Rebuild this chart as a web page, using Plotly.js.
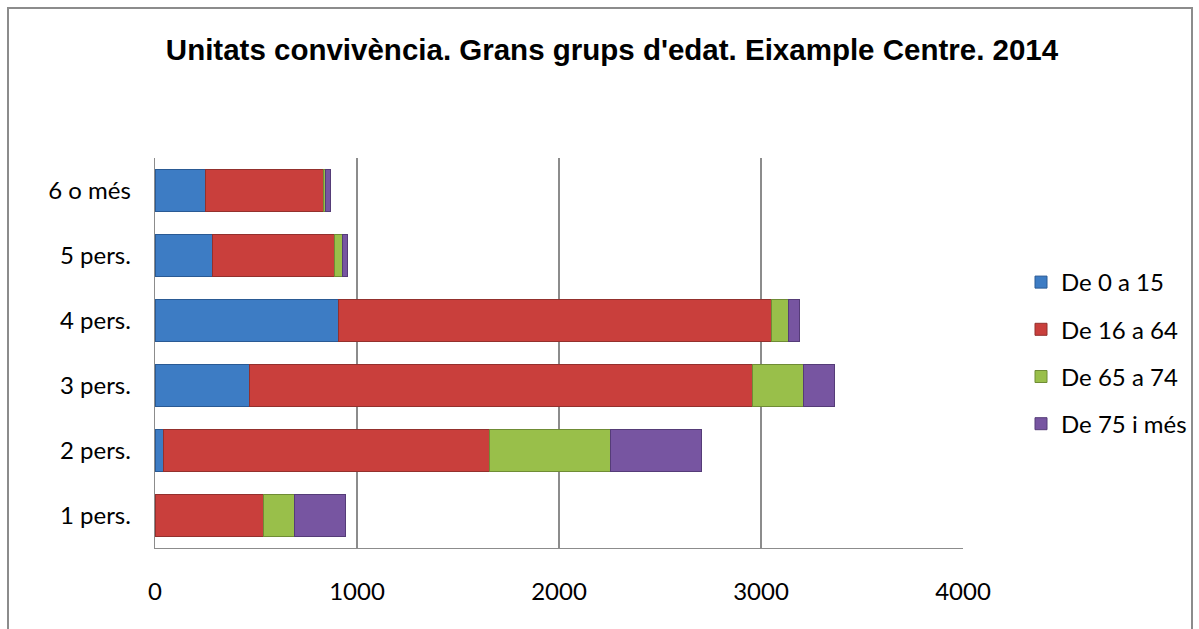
<!DOCTYPE html>
<html>
<head>
<meta charset="utf-8">
<script src="https://cdn.plot.ly/plotly-3.0.1.min.js"></script>
<style>
html,body{margin:0;padding:0;background:#fff;}
#chart{width:1199px;height:629px;}
</style>
</head>
<body>
<div id="chart"></div>
<script>
const categories = ["1 pers.", "2 pers.", "3 pers.", "4 pers.", "5 pers.", "6 o més"];
const seriesNames = ["De 0 a 15", "De 16 a 64", "De 65 a 74", "De 75 i més"];
const age0to15 = [0, 40, 470, 909, 287, 251];
const age16to64 = [536, 1615, 2490, 2141, 604, 581];
const age65to74 = [157, 601, 250, 87, 38, 13];
const age75plus = [248, 449, 153, 53, 26, 26];
const xTicks = [0, 1000, 2000, 3000, 4000];

const seriesValues = [age0to15, age16to64, age65to74, age75plus];
const fills = ["#3D7CC4", "#C93F3C", "#99BF4A", "#7755A1"];
const edges = ["#2A5A94", "#93302D", "#6F8C35", "#553C78"];

const traces = seriesValues.map((vals, i) => ({
  type: "bar",
  orientation: "h",
  name: seriesNames[i],
  y: categories,
  x: vals,
  legendgroup: "g" + i,
  marker: {color: fills[i], line: {color: edges[i], width: 1}},
  hoverinfo: "x+y+name"
}));

const L = 155, R = 236, T = 158, B = 81;
const W = 1199 - L - R, H = 629 - T - B;
const px2x = p => (p - L) / W;
const py2y = p => (629 - B - p) / H;
const labelFont = {family: "Lato, Carlito, Calibri, sans-serif", size: 24, color: "#000"};

const layout = {
  width: 1199, height: 629,
  margin: {l: L, r: R, t: T, b: B, pad: 0, autoexpand: false},
  paper_bgcolor: "#ffffff",
  plot_bgcolor: "#ffffff",
  barmode: "stack",
  bargap: 0.35,
  showlegend: true,
  title: {
    text: "<b>Unitats convivència. Grans grups d'edat. Eixample Centre. 2014</b>",
    font: {family: "Liberation Sans, Arial, sans-serif", size: 29.5, color: "#000"},
    x: 612 / 1199, xanchor: "center", xref: "container",
    y: 1 - 50 / 629, yanchor: "middle"
  },
  xaxis: {
    range: [0, 4000],
    tickvals: xTicks,
    ticktext: xTicks.map(String),
    showgrid: true,
    gridcolor: "#8c8c8c",
    gridwidth: 1.3,
    zeroline: false,
    showline: true,
    linecolor: "#8c8c8c",
    linewidth: 1.3,
    ticks: "",
    ticklabelstandoff: 22,
    tickfont: labelFont,
    fixedrange: true
  },
  yaxis: {
    type: "category",
    categoryorder: "array",
    categoryarray: categories,
    showgrid: false,
    zeroline: false,
    showline: true,
    linecolor: "#8c8c8c",
    linewidth: 1.3,
    ticks: "",
    ticklabelstandoff: 18,
    tickfont: labelFont,
    fixedrange: true
  },
  legend: {
    x: px2x(1021), xanchor: "left",
    y: py2y(260), yanchor: "top",
    traceorder: "grouped",
    tracegroupgap: 13,
    font: labelFont,
    bgcolor: "rgba(0,0,0,0)",
    itemwidth: 30
  },
  shapes: [
    {type: "rect", xref: "paper", yref: "paper",
     x0: px2x(8), x1: px2x(1192), y0: py2y(640), y1: py2y(8),
     line: {color: "#8c8c8c", width: 2}, fillcolor: "rgba(0,0,0,0)", layer: "below"}
  ]
};

Plotly.newPlot("chart", traces, layout, {displayModeBar: false, staticPlot: true});
</script>
</body>
</html>
